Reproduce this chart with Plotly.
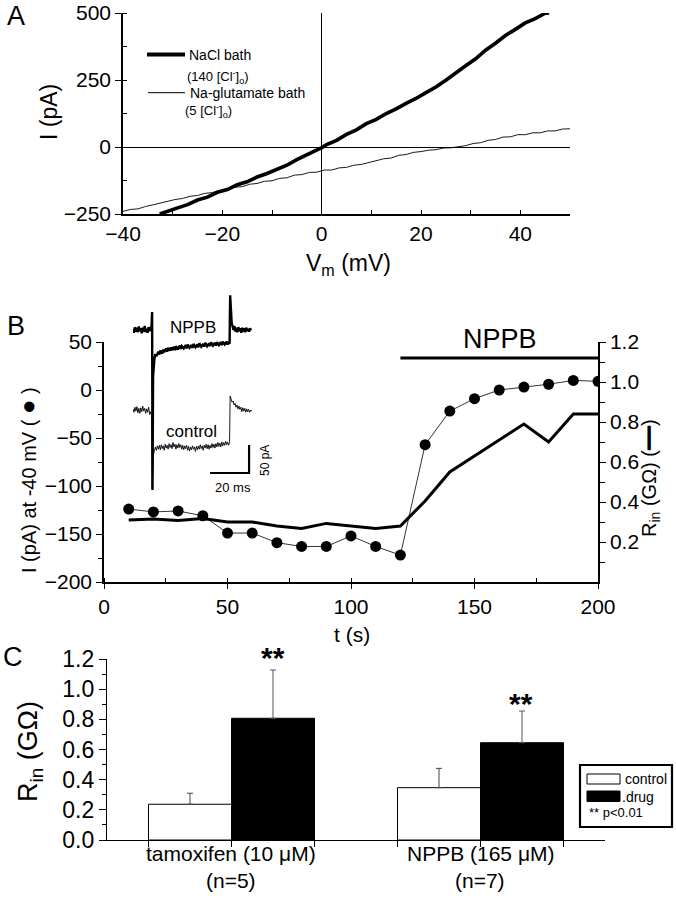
import plotly.graph_objects as go

FONT = "Liberation Sans, Arial, Helvetica, sans-serif"
W, H = 676, 899

# ---------------- Panel A : I-V curves ----------------
vm_nacl = [-32.6, -31, -29, -27, -25, -23, -21, -19, -17, -15, -13, -11, -9, -7, -5, -3, -1, 0,
           1, 3, 5, 7, 9, 11, 13, 15, 17, 19, 21, 23, 25, 27, 29, 31, 33, 35, 37, 39, 41, 43, 45, 45.8]
i_nacl = [-250, -241, -227, -215, -198, -187, -169, -159, -141, -130, -112, -99, -83, -68, -47, -30, -10, -2,
          9, 25, 47, 64, 87, 103, 125, 142, 163, 181, 203, 224, 249, 274, 303, 329, 361, 387, 416, 439, 463, 479, 499, 500]

vm_glu = [-40, -38.5, -37, -35.5, -34, -32.5, -31, -29.5, -28, -26.5, -25, -23.5, -22, -20.5, -19, -17.5,
          -16, -14.5, -13, -11.5, -10, -8.5, -7, -5.5, -4, -2.5, -1, 0.5, 2, 3.5, 5, 6.5, 8, 9.5, 11, 12.5,
          14, 15.5, 17, 18.5, 20, 21.5, 23, 24.5, 26, 27.5, 29, 30.5, 32, 33.5, 35, 36.5, 38, 39.5, 41, 42.5,
          44, 45.5, 47, 48.5, 50]
i_glu = [-240, -233, -231, -222, -216, -209, -203, -196, -192, -184, -181, -173, -170, -162, -160, -150,
         -148, -139, -136, -128, -126, -117, -115, -105, -103, -95, -94, -86, -86, -78, -76, -68, -65, -58, -53, -44,
         -41, -31, -28, -20, -17, -12, -10, -4, -3, 2, 5, 13, 16, 25, 28, 37, 38, 46, 46, 53,
         53, 60, 60, 67, 68]

# ---------------- Panel B : time course ----------------
t_s = [10, 20, 30, 40, 50, 60, 70, 80, 90, 100, 110, 120, 130, 140, 150, 160, 170, 180, 190, 200]
i_at_m40 = [-124, -127, -126, -131, -149, -149, -159, -163, -163, -152, -163, -172, -57, -22, -9, 0, 3, 6, 10, 9]
rin_t = [0.31, 0.315, 0.307, 0.318, 0.30, 0.30, 0.28, 0.268, 0.293, 0.282, 0.268, 0.28,
         0.405, 0.55, 0.63, 0.71, 0.79, 0.70, 0.84, 0.84]
nppb_t = [120, 200]
nppb_level = [1.12, 1.12]

# inset current traces (ms, pA)
nppb_ms = [0, 0.5, 1, 1.5, 2, 2.5, 3, 3.5, 4, 4.5, 5, 5.5, 6, 6.5, 7, 7.5, 8, 8.5, 9, 9.5,
           9.8, 10, 10.3, 10.6, 11, 11.5, 12, 13, 13.5, 14, 15, 15.5, 16, 17, 17.5, 18, 19, 19.5, 20, 21,
           21.5, 22, 23, 24, 24.5, 25, 26, 27, 27.5, 28, 29, 30, 30.5, 31, 32, 33, 33.5, 34, 35, 36, 36.5,
           37, 38, 39, 39.5, 40, 41, 42, 42.5, 43, 44, 45, 45.5, 46, 47, 48, 48.5, 49, 49.5,
           49.8, 50.2, 50.6, 51, 51.5, 52, 52.5, 53, 53.5, 54, 54.5, 55, 55.5, 56, 56.5, 57, 57.5, 58,
           58.5, 59, 59.5, 60, 60.5]
nppb_pa = [145, 138, 148, 140, 147, 139, 149, 141, 146, 137, 147, 140, 150, 139, 145, 138, 148, 141, 146, 150,
           175, -143, 60, 90, 92, 100, 96, 104, 99, 106, 101, 108, 103, 110, 104, 111, 106, 112, 107, 113,
           107, 114, 108, 115, 109, 114, 110, 116, 110, 117, 111, 116, 111, 118, 112, 117, 112, 119, 113, 118, 113,
           120, 114, 119, 114, 121, 115, 120, 115, 121, 116, 121, 116, 122, 117, 122, 117, 122, 118,
           205, 170, 155, 150, 143, 150, 140, 147, 139, 148, 141, 146, 138, 147, 140, 146, 139, 147,
           141, 145, 140, 146, 142]

ctrl_ms = [0, 0.5, 1, 1.5, 2, 2.5, 3, 3.5, 4, 4.5, 5, 5.5, 6, 6.5, 7, 7.5, 8, 8.5, 9, 9.5,
           9.8, 10.2, 10.5, 11, 11.5, 12, 12.5, 13, 13.5, 14, 14.5, 15, 15.5, 16, 16.5, 17, 17.5, 18, 18.5,
           19, 19.5, 20, 20.5, 21, 21.5, 22, 22.5, 23, 23.5, 24, 24.5, 25, 25.5, 26, 26.5, 27, 27.5, 28,
           28.5, 29, 29.5, 30, 30.5, 31, 31.5, 32, 32.5, 33, 33.5, 34, 34.5, 35, 35.5, 36, 36.5, 37, 37.5,
           38, 38.5, 39, 39.5, 40, 40.5, 41, 41.5, 42, 42.5, 43, 43.5, 44, 44.5, 45, 45.5, 46, 46.5, 47,
           47.5, 48, 48.5, 49, 49.5, 49.8, 50.3, 50.8, 51.3, 51.8, 52.3, 52.8, 53.3, 53.8, 54.3, 54.8,
           55.3, 55.8, 56.3, 56.8, 57.3, 57.8, 58.3, 58.8, 59.3, 59.8, 60.3, 60.8, 61.3]
ctrl_pa = [2, -4, 5, -2, 6, -5, 3, -6, 4, -3, 7, -2, 3, -6, 2, -4, 5, -8, -3, -10,
           -140, -90, -80, -72, -66, -72, -64, -70, -63, -71, -62, -69, -64, -72, -61, -68, -63, -70, -60,
           -67, -62, -69, -58, -66, -61, -70, -62, -68, -60, -67, -62, -70, -63, -71, -64, -69, -63, -72,
           -65, -73, -66, -71, -64, -70, -66, -74, -65, -71, -64, -70, -62, -69, -64, -72, -63, -68, -61,
           -69, -62, -70, -63, -68, -60, -67, -61, -68, -60, -66, -58, -65, -59, -66, -57, -64, -58, -63,
           -56, -62, -57, -63, -58, 25, 18, 14, 16, 9, 12, 5, 9, 2, 7, 1,
           5, -3, 4, -2, 3, -4, 2, -3, 1, -4, 0, -2, 1]

scale_x_ms = [39.5, 59.5, 59.5]
scale_y_pa = [-112.5, -112.5, -62.5]

# ---------------- Panel C : bar chart ----------------
groups = ["tamoxifen (10 \u03bcM)<br>(n=5)", "NPPB (165 \u03bcM)<br>(n=7)"]
group_pos = [0, 1]
control_vals = [0.237, 0.347]
control_err = [0.073, 0.128]
drug_vals = [0.807, 0.645]
drug_err = [0.320, 0.210]
bar_w = 1 / 3

fig = go.Figure()

# Panel A traces
fig.add_trace(go.Scatter(x=vm_glu, y=i_glu, mode="lines", line=dict(color="black", width=0.9),
                         xaxis="x", yaxis="y", showlegend=False))
fig.add_trace(go.Scatter(x=vm_nacl, y=i_nacl, mode="lines", line=dict(color="black", width=3.6),
                         xaxis="x", yaxis="y", showlegend=False))

# Panel B traces
fig.add_trace(go.Scatter(x=t_s, y=i_at_m40, mode="lines+markers",
                         line=dict(color="black", width=0.8),
                         marker=dict(color="black", size=11),
                         xaxis="x2", yaxis="y2", showlegend=False))
fig.add_trace(go.Scatter(x=t_s, y=rin_t, mode="lines", line=dict(color="black", width=3),
                         xaxis="x2", yaxis="y3", showlegend=False))
fig.add_trace(go.Scatter(x=nppb_t, y=nppb_level, mode="lines", line=dict(color="black", width=3),
                         xaxis="x2", yaxis="y3", showlegend=False))

# inset
fig.add_trace(go.Scatter(x=ctrl_ms, y=ctrl_pa, mode="lines", line=dict(color="black", width=0.9),
                         xaxis="x4", yaxis="y4", showlegend=False))
fig.add_trace(go.Scatter(x=nppb_ms, y=nppb_pa, mode="lines", line=dict(color="black", width=2.4),
                         xaxis="x4", yaxis="y4", showlegend=False))
fig.add_trace(go.Scatter(x=scale_x_ms, y=scale_y_pa, mode="lines", line=dict(color="black", width=2.2),
                         xaxis="x4", yaxis="y4", showlegend=False))

# Panel C bars
fig.add_trace(go.Bar(x=[p - bar_w / 2 for p in group_pos], y=control_vals, width=bar_w,
                     marker=dict(color="white", line=dict(color="black", width=1)),
                     error_y=dict(type="data", array=control_err, arrayminus=[0, 0], symmetric=False,
                                  color="#444", thickness=1, width=3),
                     xaxis="x5", yaxis="y5", showlegend=False))
fig.add_trace(go.Bar(x=[p + bar_w / 2 for p in group_pos], y=drug_vals, width=bar_w,
                     marker=dict(color="black", line=dict(color="black", width=1)),
                     error_y=dict(type="data", array=drug_err, arrayminus=[0, 0], symmetric=False,
                                  color="#555", thickness=1, width=3),
                     xaxis="x5", yaxis="y5", showlegend=False))


def px(x):
    return x / W


def py(y):
    return 1 - y / H


common = dict(showgrid=False, showline=True, linecolor="black", tickcolor="black",
              automargin=False,
              tickfont=dict(family=FONT, size=21, color="black"))

fig.update_layout(
    width=W, height=H, autosize=False,
    margin=dict(l=0, r=0, t=0, b=0, pad=0, autoexpand=False),
    showlegend=False,
    paper_bgcolor="white", plot_bgcolor="rgba(0,0,0,0)",
    font=dict(family=FONT, color="black"),
    barmode="overlay",
    xaxis=dict(domain=[px(123), px(570)], range=[-40, 50], anchor="y", linewidth=1.5,
               ticks="inside", ticklen=4, tick0=-40, dtick=20,
               minor=dict(ticks="inside", ticklen=4, dtick=10, tickcolor="black"),
               zeroline=True, zerolinecolor="black", zerolinewidth=1.2, **common),
    yaxis=dict(domain=[py(214), py(13)], range=[-250, 500], anchor="x", linewidth=1.5,
               ticks="outside", ticklen=6, tick0=-250, dtick=250,
               minor=dict(ticks="inside", ticklen=4, dtick=125, tickcolor="black"),
               zeroline=True, zerolinecolor="black", zerolinewidth=1.2, **common),
    xaxis2=dict(domain=[px(104), px(598)], range=[0, 200], anchor="y2", linewidth=1.5,
                ticks="outside", ticklen=5, tick0=0, dtick=50,
                minor=dict(ticks="inside", ticklen=4, dtick=25, tickcolor="black"),
                zeroline=False, **common),
    yaxis2=dict(domain=[py(582), py(342)], range=[-200, 50], anchor="x2", linewidth=1.5,
                ticks="outside", ticklen=6, tick0=-200, dtick=50,
                minor=dict(ticks="outside", ticklen=4, dtick=25, tickcolor="black"),
                zeroline=False, **common),
    yaxis3=dict(range=[0, 1.2], overlaying="y2", side="right", anchor="x2", linewidth=1.5,
                ticks="outside", ticklen=6,
                tickvals=[0.2, 0.4, 0.6, 0.8, 1.0, 1.2],
                ticktext=["0.2", "0.4", "0.6", "0.8", "1.0", "1.2"],
                minor=dict(ticks="outside", ticklen=5, tickvals=[0.1, 0.3, 0.5, 0.7, 0.9, 1.1],
                           tickcolor="black"),
                zeroline=False, **common),
    xaxis4=dict(domain=[px(133), px(252)], range=[0, 61], anchor="y4", visible=False),
    yaxis4=dict(domain=[py(500), py(290)], range=[-160.7, 214.3], anchor="x4", visible=False),
    xaxis5=dict(domain=[px(107), px(605)], range=[-0.5, 1.5], anchor="y5", linewidth=1.3,
                ticks="outside", ticklen=6, automargin=False,
                tickvals=[-1 / 3, 0, 1 / 3, 2 / 3, 1, 4 / 3], showticklabels=False,
                zeroline=False, showgrid=False, showline=True, linecolor="black", tickcolor="black"),
    yaxis5=dict(domain=[py(840), py(659)], range=[0, 1.2], anchor="x5", linewidth=1.3,
                ticks="outside", ticklen=7, tick0=0, dtick=0.2, tickformat=".1f", automargin=False,
                minor=dict(ticks="outside", ticklen=4, dtick=0.1, tickcolor="black"),
                zeroline=False, showgrid=False, showline=True, linecolor="black", tickcolor="black",
                tickfont=dict(family=FONT, size=23, color="black")),
)

ann = []


def add_text(text, x, y, size, xanchor="center", yanchor="middle", angle=0):
    ann.append(dict(text=text, x=px(x), y=py(y), xref="paper", yref="paper", showarrow=False,
                    xanchor=xanchor, yanchor=yanchor, textangle=angle,
                    font=dict(family=FONT, size=size, color="black")))


# panel letters
add_text("A", 16, 16, 27)
add_text("B", 16, 326, 27)
add_text("C", 13, 657, 27)

# Panel A labels
add_text("I (pA)", 49, 112, 23, angle=-90)
add_text("V<sub>m</sub> (mV)", 348, 265, 23)
add_text("NaCl bath", 187, 55, 14, xanchor="left")
add_text("(140 [Cl<sup>-</sup>]<sub>o</sub>)", 185, 77, 13, xanchor="left")
add_text("Na-glutamate bath", 188, 93, 14, xanchor="left")
add_text("(5 [Cl<sup>-</sup>]<sub>o</sub>)", 183, 111, 13, xanchor="left")

# Panel B labels
add_text("I (pA) at -40 mV ( <span style='font-size:24px'>\u25cf</span> )", 27, 480, 20, angle=-90)
add_text("R<sub>in</sub> (G\u03a9) (\u2501\u2501)", 650, 478, 20, angle=-90)
add_text("t (s)", 352, 634, 21)
add_text("NPPB", 500, 339, 27)
add_text("NPPB", 193, 327, 17)
add_text("control", 191, 431, 17)
add_text("20 ms", 233, 487, 13)
add_text("50 pA", 265, 461, 12, angle=-90)

# Panel C labels
add_text("R<sub>in</sub> (G\u03a9)", 30, 752, 27, angle=-90)
for gp, gl in zip([231, 480], groups):
    top, bottom = gl.split("<br>")
    add_text(top, gp, 853, 21)
    add_text(bottom, gp, 880, 21)
add_text("<b>**</b>", 273, 657, 30)
add_text("<b>**</b>", 521, 703, 30)
add_text("control", 623, 779, 14, xanchor="left")
add_text(".drug", 620, 797, 14, xanchor="left")
add_text("** p&lt;0.01", 587, 812, 13, xanchor="left")

fig.update_layout(annotations=ann)

shapes = [
    # Panel A legend samples
    dict(type="line", xref="paper", yref="paper", x0=px(147), x1=px(185), y0=py(54.5), y1=py(54.5),
         line=dict(color="black", width=4)),
    dict(type="line", xref="paper", yref="paper", x0=px(148), x1=px(185), y0=py(92.7), y1=py(92.7),
         line=dict(color="black", width=1)),
    # Panel C legend box
    dict(type="rect", xref="paper", yref="paper", x0=px(580), x1=px(672), y0=py(827), y1=py(765),
         line=dict(color="black", width=2.2), fillcolor="white", layer="below"),
    dict(type="rect", xref="paper", yref="paper", x0=px(587), x1=px(620), y0=py(784), y1=py(774),
         line=dict(color="black", width=1), fillcolor="white"),
    dict(type="rect", xref="paper", yref="paper", x0=px(587), x1=px(620), y0=py(801.5), y1=py(791),
         line=dict(color="black", width=1), fillcolor="black"),
]
fig.update_layout(shapes=shapes)

# remove the default page margin so the 676x899 figure fills the window exactly
fig.write_html("out.html",
               config={"displayModeBar": False},
               post_script="document.body.style.margin='0';document.body.style.overflow='hidden';")
